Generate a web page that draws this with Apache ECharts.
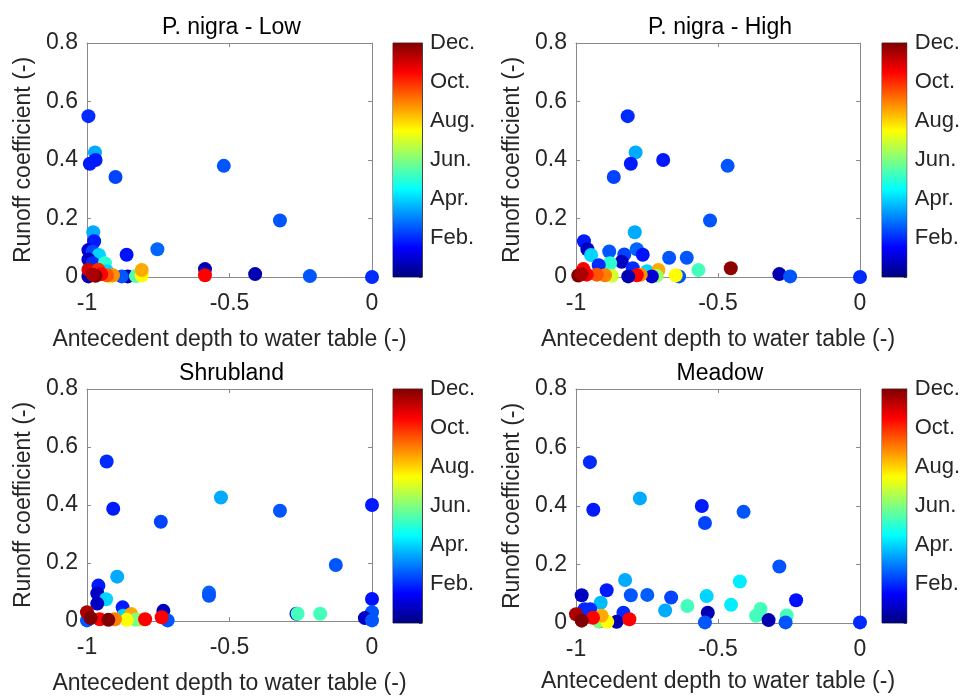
<!DOCTYPE html>
<html>
<head>
<meta charset="utf-8">
<script src="https://cdn.jsdelivr.net/npm/echarts@6/dist/echarts.min.js"></script>
<style>
  html, body { margin: 0; padding: 0; background: #fff; }
  #chart { width: 963px; height: 696px; }
</style>
</head>
<body>
<div id="chart"></div>
<script>
// panel titles and colourbar tick labels
const panelTitles = ['P. nigra - Low', 'P. nigra - High', 'Shrubland', 'Meadow'];
const monthTicks = ['', 'Feb.', 'Apr.', 'Jun.', 'Aug.', 'Oct.', 'Dec.'];
const jetColors = ['#00007f', '#0000ff', '#007fff', '#00ffff', '#7fff7f', '#ffff00', '#ff7f00', '#ff0000', '#7f0000'];

// P. nigra - Low
const lowX = [-0.995, -0.972, -0.97, -0.99, -0.90, -0.52, -0.323, -0.753, -0.861, -0.978, -0.975, -0.995, -0.98, -0.958, -0.995, -0.98, -0.937, -0.586, -0.41, -0.218, 0, -0.857, -0.878, -0.828, -0.808, -0.808, -0.92, -0.93, -0.995, -0.995, -0.96, -0.909, -0.93, -0.95, -0.97, -0.586, -0.98];
const lowY = [0.55, 0.426, 0.40, 0.387, 0.342, 0.38, 0.193, 0.095, 0.076, 0.153, 0.122, 0.092, 0.087, 0.075, 0.06, 0.047, 0.047, 0.027, 0.01, 0.003, 0, 0.002, 0.002, 0.003, 0.005, 0.024, 0.002, 0.02, 0.002, 0.025, 0.025, 0.006, 0.006, 0.01, 0.004, 0.006, 0.008];
const lowM = [2, 3.5, 1.8, 1.8, 2.3, 2.5, 2.5, 2.7, 1.7, 3.5, 1.8, 1.0, 2.3, 4, 0.8, 2, 5, 0.6, 0.6, 2.5, 2, 0.6, 2.5, 5.5, 7.5, 8.5, 7, 4, 0.6, 11, 10, 8.8, 9.5, 10.5, 12, 10.5, 11.5];

// P. nigra - High
const highX = [-0.818, -0.79, -0.693, -0.807, -0.867, -0.466, -0.528, -0.793, -0.972, -0.96, -0.883, -0.83, -0.786, -0.765, -0.947, -0.672, -0.61, -0.839, -0.88, -0.569, -0.455, -0.284, -0.246, 0, -0.92, -0.8, -0.75, -0.71, -0.637, -0.649, -0.716, -0.733, -0.772, -0.786, -0.816, -0.874, -0.898, -0.927, -0.974, -0.962, -0.992, -0.98];
const highY = [0.55, 0.426, 0.40, 0.387, 0.342, 0.38, 0.193, 0.153, 0.122, 0.095, 0.087, 0.077, 0.095, 0.076, 0.075, 0.066, 0.066, 0.052, 0.047, 0.024, 0.03, 0.01, 0.002, 0, 0.04, 0.03, 0.02, 0.024, 0.002, 0.006, 0.004, 0.002, 0.008, 0.006, 0.002, 0.004, 0.006, 0.008, 0.027, 0.008, 0.005, 0.01];
const highM = [2, 3.5, 1.8, 1.8, 2.3, 2.5, 2.5, 3.5, 1.8, 0.8, 2.5, 2.3, 2.7, 1.7, 4, 2.5, 2.5, 0.8, 5, 5.3, 11.8, 0.6, 2.5, 2, 2, 2, 4, 8.5, 2.5, 7.5, 6.3, 1, 8.8, 10.5, 0.6, 7, 9, 9.5, 10.5, 10.5, 12, 11.5];

// Shrubland
const shrubX = [-0.931, -0.53, 0, -0.908, -0.741, -0.323, -0.127, -0.894, -0.96, -0.964, -0.572, -0.572, 0, -0.933, -0.964, -0.875, -0.732, -0.265, -0.261, -0.182, 0, -0.025, 0, -0.717, -1.0, -0.873, -0.845, -0.81, -0.83, -0.861, -0.902, -0.955, -0.738, -0.796, -1.0, -0.987, -0.925];
const shrubY = [0.55, 0.426, 0.40, 0.387, 0.342, 0.38, 0.193, 0.153, 0.122, 0.095, 0.098, 0.087, 0.076, 0.075, 0.06, 0.047, 0.035, 0.025, 0.025, 0.025, 0.03, 0.01, 0.002, 0.002, 0.002, 0.018, 0.024, 0.004, 0.004, 0.004, 0.006, 0.006, 0.013, 0.006, 0.03, 0.01, 0.004];
const shrubM = [2, 3.5, 1.8, 1.8, 2.3, 2.5, 2.5, 3.5, 1.8, 0.8, 2.7, 2.5, 1.7, 4, 0.8, 1.8, 0.8, 0.8, 5.3, 5.3, 2.5, 0.8, 2.5, 2.5, 2.5, 4, 8.5, 6.5, 6, 7.5, 9, 10.5, 10.5, 10.5, 11.5, 12, 12];

// Meadow
const meadowX = [-0.951, -0.775, -0.557, -0.939, -0.546, -0.41, -0.284, -0.827, -0.423, -0.892, -0.98, -0.807, -0.749, -0.665, -0.54, -0.225, -0.913, -0.686, -0.608, -0.454, -0.536, -0.35, -0.366, -0.258, -0.322, -0.262, -0.546, 0, -0.97, -0.95, -0.833, -0.857, -0.918, -0.92, -0.89, -0.91, -0.94, -0.812, -1.0, -0.98];
const meadowY = [0.55, 0.426, 0.40, 0.387, 0.342, 0.38, 0.193, 0.147, 0.142, 0.112, 0.095, 0.095, 0.096, 0.087, 0.092, 0.078, 0.069, 0.043, 0.058, 0.062, 0.035, 0.048, 0.025, 0.026, 0.01, 0.002, 0.002, 0.002, 0.047, 0.047, 0.035, 0.004, 0.006, 0.006, 0.004, 0.025, 0.018, 0.013, 0.03, 0.008];
const meadowM = [2, 3.5, 1.8, 1.8, 2.3, 2.5, 2.5, 3.5, 4.3, 1.8, 0.8, 2.5, 2.6, 2.3, 4, 1.7, 3.7, 3.5, 5.3, 4.3, 0.6, 5.3, 5.3, 5.3, 0.6, 2.5, 2.5, 2, 2, 2, 2, 0.6, 0.6, 6, 7.5, 8.5, 10.5, 10.5, 11.5, 12];

const panels = [[lowX, lowY, lowM], [highX, highY, highM], [shrubX, shrubY, shrubM], [meadowX, meadowY, meadowM]];

const FONT = 'Liberation Sans, Arial, sans-serif';
const TXT = '#262626';
const AXC = '#8a8a8a';

// plot boxes and colourbar boxes, px
const plotBox = [
  { left: 87, top: 43, width: 285, height: 234 },
  { left: 576, top: 43, width: 284, height: 234 },
  { left: 87, top: 389, width: 285, height: 234 },
  { left: 576, top: 389, width: 284, height: 234 }
];
const barBox = [
  { left: 393, top: 43, width: 29, height: 234 },
  { left: 882, top: 43, width: 28, height: 234 },
  { left: 393, top: 389, width: 29, height: 234 },
  { left: 882, top: 389, width: 28, height: 234 }
];

const grid = [];
const xAxis = [];
const yAxis = [];
const series = [];
const title = [];

const tick = { show: true, inside: true, length: 4, lineStyle: { color: AXC } };
const line = { show: true, onZero: false, lineStyle: { color: AXC, width: 1 } };

panels.forEach((p, i) => {
  grid.push(Object.assign({ containLabel: false }, plotBox[i]));
  const gi = grid.length - 1;
  // bottom / left main axes
  xAxis.push({
    type: 'value', gridIndex: gi, min: -1, max: 0, interval: 0.5, position: 'bottom',
    axisLine: line, axisTick: tick, splitLine: { show: false },
    axisLabel: { fontSize: 23, color: TXT, fontFamily: FONT, margin: 15, formatter: v => String(v) },
    name: 'Antecedent depth to water table (-)', nameLocation: 'middle', nameGap: i === 3 ? 47 : 51,
    nameTextStyle: { fontSize: 23, color: TXT, fontFamily: FONT }
  });
  const xi = xAxis.length - 1;
  yAxis.push({
    type: 'value', gridIndex: gi, min: 0, max: 0.8, interval: 0.2, position: 'left',
    axisLine: line, axisTick: tick, splitLine: { show: false },
    axisLabel: { fontSize: 23, color: TXT, fontFamily: FONT, margin: 9, formatter: v => String(+v.toFixed(1)) },
    name: 'Runoff coefficient (-)', nameLocation: 'middle', nameGap: 52,
    nameTextStyle: { fontSize: 23, color: TXT, fontFamily: FONT }
  });
  const yi = yAxis.length - 1;
  // mirrored top / right axes
  xAxis.push({ type: 'value', gridIndex: gi, min: -1, max: 0, interval: 0.5, position: 'top',
    axisLine: line, axisTick: tick, axisLabel: { show: false }, splitLine: { show: false } });
  yAxis.push({ type: 'value', gridIndex: gi, min: 0, max: 0.8, interval: 0.2, position: 'right',
    axisLine: line, axisTick: tick, axisLabel: { show: false }, splitLine: { show: false } });

  series.push({
    type: 'scatter', xAxisIndex: xi, yAxisIndex: yi, symbol: 'circle', symbolSize: 14,
    clip: false, z: 5, itemStyle: { opacity: 1 },
    data: p[0].map((x, k) => [x, p[1][k], p[2][k]])
  });

  title.push({
    text: panelTitles[i], left: plotBox[i].left + plotBox[i].width / 2 - 3, top: plotBox[i].top - 32,
    textAlign: 'center',
    textStyle: { fontSize: 23, fontWeight: 'normal', color: '#000', fontFamily: FONT }
  });
});

// colourbars
barBox.forEach((b, i) => {
  grid.push(Object.assign({ show: true, borderColor: '#444', borderWidth: 1 }, b));
  const gi = grid.length - 1;
  xAxis.push({ type: 'category', gridIndex: gi, data: ['c'], show: false, boundaryGap: true });
  yAxis.push({
    type: 'value', gridIndex: gi, min: 0, max: 12, interval: 2, position: 'right',
    axisLine: { show: true, lineStyle: { color: '#444' } },
    axisTick: { show: true, inside: true, length: 3, lineStyle: { color: '#444' } },
    splitLine: { show: false },
    axisLabel: { fontSize: 22, color: TXT, fontFamily: FONT, margin: 8, formatter: v => monthTicks[Math.round(v / 2)] }
  });
  series.push({
    type: 'bar', xAxisIndex: xAxis.length - 1, yAxisIndex: yAxis.length - 1,
    barWidth: '100%', silent: true, data: [12], z: 1,
    itemStyle: {
      color: {
        type: 'linear', x: 0, y: 1, x2: 0, y2: 0,
        colorStops: jetColors.map((c, k) => ({ offset: k / (jetColors.length - 1), color: c }))
      }
    }
  });
});

const chart = echarts.init(document.getElementById('chart'), null, { renderer: 'canvas' });
chart.setOption({
  animation: false,
  backgroundColor: '#fff',
  title: title,
  grid: grid,
  xAxis: xAxis,
  yAxis: yAxis,
  visualMap: {
    show: false, type: 'continuous', seriesIndex: [0, 1, 2, 3], dimension: 2,
    min: 0, max: 12, inRange: { color: jetColors }
  },
  series: series
});
</script>
</body>
</html>
